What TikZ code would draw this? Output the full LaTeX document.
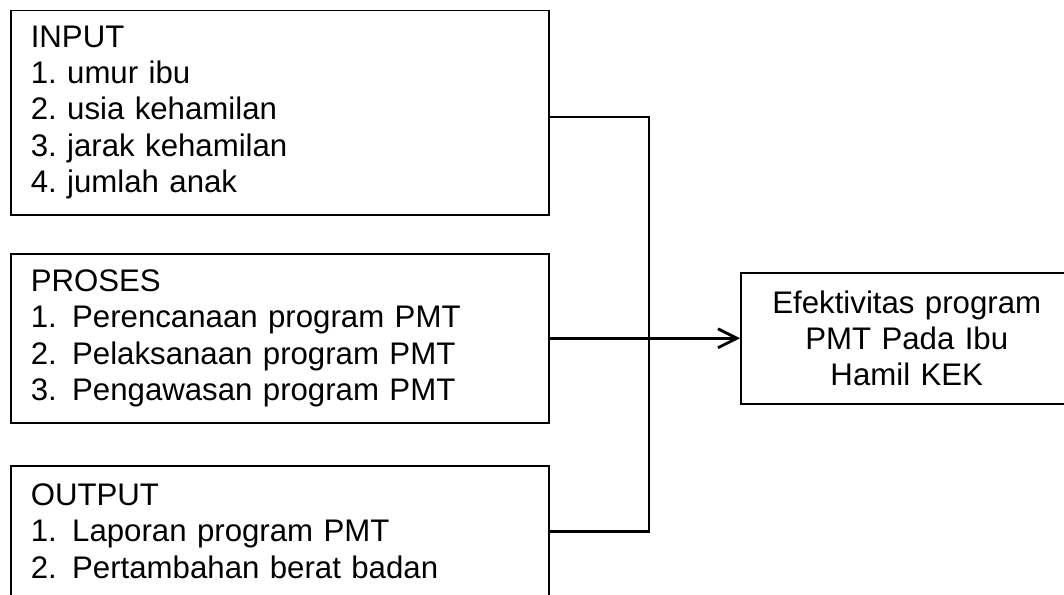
\documentclass[tikz,border=0pt]{standalone}
\usepackage{fontspec}
\setmainfont{Liberation Sans}
\usetikzlibrary{arrows.meta}
\frenchspacing
\newcommand{\butir}[1]{#1.\hspace{2.5pt} }
\tikzset{
  kotak/.style={draw,line width=0.75pt,anchor=north west,text width=249pt,inner xsep=10pt,align=left,
    font=\fontsize{15.6}{18.2}\selectfont},
  hasil/.style={draw,line width=0.75pt,anchor=west,minimum width=166pt,minimum height=65.5pt,text width=150pt,align=center,
    font=\fontsize{15.6}{18.2}\selectfont},
  garis/.style={line width=1.4pt}
}
\begin{document}
\begin{tikzpicture}[x=0.5pt,y=-0.5pt]
\useasboundingbox (0,0) rectangle (1064,594);
\clip (0,0) rectangle (1064,594);
\node[kotak,minimum height=102.25pt](input) at (10,9.5)
  {INPUT\\1. umur ibu\\2. usia kehamilan\\3. jarak kehamilan\\4. jumlah anak};
\node[kotak,minimum height=84.5pt](proses) at (10,253)
  {PROSES\\\butir{1}Perencanaan program PMT\\\butir{2}Pelaksanaan program PMT\\\butir{3}Pengawasan program PMT};
\node[kotak,minimum height=65.5pt](output) at (10,465)
  {OUTPUT\\\butir{1}Laporan program PMT\\\butir{2}Pertambahan berat badan};
\coordinate(kanan) at (740,0);
\coordinate(atas) at (649,117);
\node[hasil](hasil) at (proses.east -| kanan) {Efektivitas program\\PMT Pada Ibu\\Hamil KEK};
\draw[garis](input.east |- atas)-|(output.east -| atas)--(output.east);
\draw[garis,-{Straight Barb[length=9.5pt,width=9.5pt]}](proses.east)--(hasil.west);
\end{tikzpicture}
\end{document}
